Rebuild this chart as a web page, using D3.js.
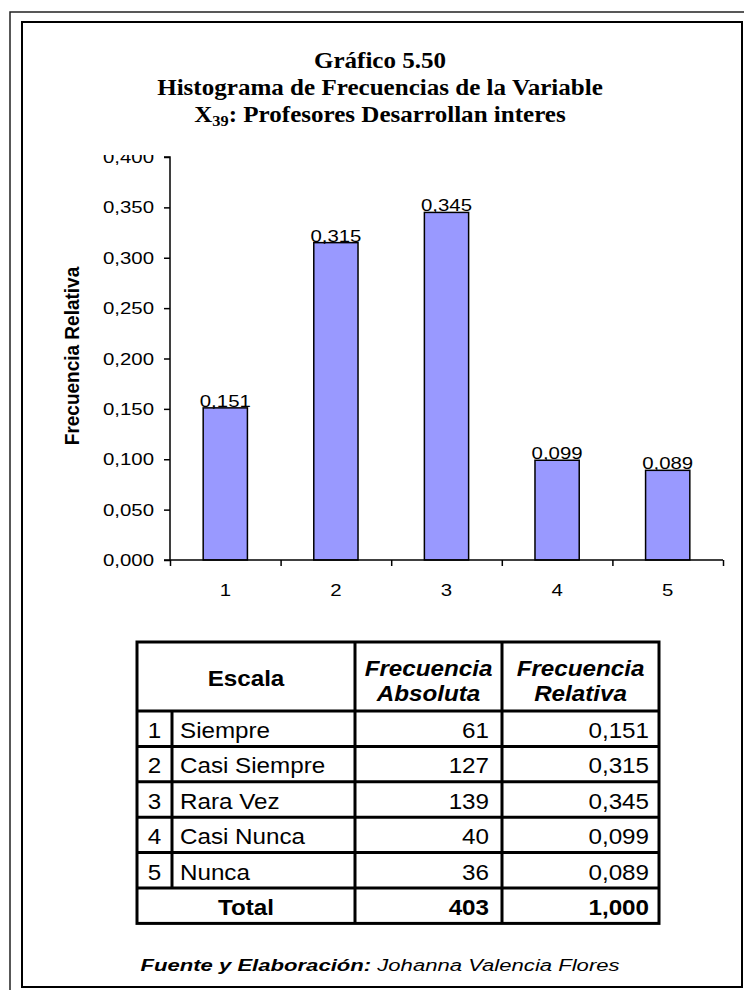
<!DOCTYPE html>
<html>
<head>
<meta charset="utf-8">
<script src="https://cdn.jsdelivr.net/npm/d3@7"></script>
<style>
  body { margin: 0; background: #fff; }
  svg { display: block; }
</style>
</head>
<body>
<div id="chart"></div>
<script>
// datos del grafico 5.50
var categories = ["1", "2", "3", "4", "5"];
var scaleNames = ["Siempre", "Casi Siempre", "Rara Vez", "Casi Nunca", "Nunca"];
var absFreq = [61, 127, 139, 40, 36];
var relFreq = [0.151, 0.315, 0.345, 0.099, 0.089];
var yTicks = [0, 0.05, 0.1, 0.15, 0.2, 0.25, 0.3, 0.35, 0.4];
var titleLines = ["Gráfico 5.50", "Histograma de Frecuencias de la Variable"];
var totalAbs = "403";
var totalRel = "1,000";

var width = 744, height = 990;
var comma = function (v) { return d3.format(".3f")(v).replace(".", ","); };

var svg = d3.select("#chart").append("svg")
    .attr("width", width)
    .attr("height", height);

// marco doble
svg.append("path")
    .attr("d", "M10,990 L10,12 L744,12")
    .attr("fill", "none")
    .attr("stroke", "#222")
    .attr("stroke-width", 1.5);
svg.append("rect")
    .attr("x", 22).attr("y", 22)
    .attr("width", 720).attr("height", 965)
    .attr("fill", "none")
    .attr("stroke", "#000")
    .attr("stroke-width", 2);

// texto estirado en horizontal (el grafico original esta deformado)
function stretchText(g, x, y, txt, sx, anchor) {
    return g.append("text")
        .attr("transform", "translate(" + x + "," + y + ") scale(" + sx + ",1)")
        .attr("text-anchor", anchor || "middle")
        .text(txt);
}

// titulo
var title = svg.append("g")
    .attr("font-family", "'Liberation Serif', 'Times New Roman', serif")
    .attr("font-weight", "bold")
    .attr("font-size", 23)
    .attr("text-anchor", "middle");
stretchText(title, 380, 68, titleLines[0], 1.09);
stretchText(title, 380, 95, titleLines[1], 1.09);
var t3 = stretchText(title, 380, 122, "", 1.09);
t3.append("tspan").text("X");
t3.append("tspan").attr("font-size", 15).attr("dy", 4).text("39");
t3.append("tspan").attr("dy", -4).text(": Profesores Desarrollan interes");

// area del grafico
var x0 = 170, x1 = 723, yBase = 560, yTop = 157;

var x = d3.scaleBand()
    .domain(categories)
    .range([x0, x1])
    .paddingInner(0.6)
    .paddingOuter(0.3);

var xb = d3.scaleLinear().domain([0, 5]).range([x0, x1]);

var y = d3.scaleLinear()
    .domain([0, 0.4])
    .range([yBase, yTop]);

svg.append("clipPath").attr("id", "clipTop")
    .append("rect").attr("x", 0).attr("y", 155).attr("width", width).attr("height", 500);

var plot = svg.append("g").attr("clip-path", "url(#clipTop)");

var data = categories.map(function (c, i) { return {cat: c, v: relFreq[i]}; });

plot.selectAll("rect.bar")
    .data(data)
    .enter().append("rect")
    .attr("class", "bar")
    .attr("x", function (d) { return x(d.cat); })
    .attr("width", x.bandwidth())
    .attr("y", function (d) { return y(d.v); })
    .attr("height", function (d) { return yBase - y(d.v); })
    .attr("fill", "#9999FF")
    .attr("stroke", "#000")
    .attr("stroke-width", 1.5);

// eje y
var yAxis = plot.append("g")
    .attr("transform", "translate(" + x0 + ",0)")
    .call(d3.axisLeft(y).tickValues(yTicks).tickSize(6).tickFormat(""));
yAxis.selectAll("path, line").attr("stroke", "#000").attr("stroke-width", 1.5);
yAxis.select(".domain").attr("d", "M-6," + yTop + "H0V" + yBase + "H-6");

var fontChart = 17, sxChart = 1.2;
var yLab = plot.append("g")
    .attr("font-family", "'Liberation Sans', Arial, sans-serif")
    .attr("font-size", fontChart)
    .attr("fill", "#000");
yTicks.forEach(function (t) {
    stretchText(yLab, 154, y(t) + 6, comma(t), sxChart, "end");
});

// eje x
var xAxis = plot.append("g")
    .attr("transform", "translate(0," + yBase + ")")
    .call(d3.axisBottom(xb).tickValues([0, 1, 2, 3, 4, 5]).tickSize(6).tickFormat(""));
xAxis.selectAll("path, line").attr("stroke", "#000").attr("stroke-width", 1.5);
xAxis.select(".domain").attr("d", "M" + x0 + ",0H" + x1);

var xLab = plot.append("g")
    .attr("font-family", "'Liberation Sans', Arial, sans-serif")
    .attr("font-size", fontChart);
categories.forEach(function (c) {
    stretchText(xLab, x(c) + x.bandwidth() / 2, 596, c, sxChart);
});

// etiquetas de valor
data.forEach(function (d) {
    stretchText(xLab, x(d.cat) + x.bandwidth() / 2, y(d.v) - 1, comma(d.v), sxChart);
});

// titulo eje y
svg.append("text")
    .attr("transform", "translate(79,356) scale(1.1,1) rotate(-90)")
    .attr("text-anchor", "middle")
    .attr("font-family", "'Liberation Sans', Arial, sans-serif")
    .attr("font-weight", "bold")
    .attr("font-size", 19)
    .text("Frecuencia Relativa");

// tabla
var cols = [137, 172, 355, 502, 659];
var rowTop = 642, headH = 69, rowH = 35.4;
var nRows = scaleNames.length;
var tBottom = rowTop + headH + rowH * (nRows + 1);

var tbl = svg.append("g")
    .attr("font-family", "'Liberation Sans', Arial, sans-serif")
    .attr("font-size", 22);

var lineStyle = function (sel) { return sel.attr("stroke", "#000").attr("stroke-width", 3); };

lineStyle(tbl.append("rect")
    .attr("x", cols[0]).attr("y", rowTop)
    .attr("width", cols[4] - cols[0]).attr("height", tBottom - rowTop)
    .attr("fill", "none"));
[2, 3].forEach(function (k) {
    lineStyle(tbl.append("line").attr("x1", cols[k]).attr("x2", cols[k]).attr("y1", rowTop).attr("y2", tBottom));
});
lineStyle(tbl.append("line").attr("x1", cols[1]).attr("x2", cols[1])
    .attr("y1", rowTop + headH).attr("y2", rowTop + headH + rowH * nRows));
for (var r = 0; r <= nRows; r++) {
    var yy = rowTop + headH + rowH * r;
    lineStyle(tbl.append("line").attr("x1", cols[0]).attr("x2", cols[4]).attr("y1", yy).attr("y2", yy));
}

// cabecera
var sx = 1.1;
stretchText(tbl, (cols[0] + cols[2]) / 2, rowTop + 44, "Escala", sx).attr("font-weight", "bold");
[["Frecuencia", "Absoluta", 3], ["Frecuencia", "Relativa", 4]].forEach(function (h) {
    var cx = (cols[h[2] - 1] + cols[h[2]]) / 2;
    stretchText(tbl, cx, rowTop + 34, h[0], sx).attr("font-weight", "bold").attr("font-style", "italic");
    stretchText(tbl, cx, rowTop + 59, h[1], sx).attr("font-weight", "bold").attr("font-style", "italic");
});

scaleNames.forEach(function (n, i) {
    var base = rowTop + headH + rowH * i + 27;
    stretchText(tbl, (cols[0] + cols[1]) / 2, base, categories[i], sx);
    stretchText(tbl, cols[1] + 8, base, n, sx, "start");
    stretchText(tbl, cols[3] - 13, base, absFreq[i], sx, "end");
    stretchText(tbl, cols[4] - 10, base, comma(relFreq[i]), sx, "end");
});
var tb = rowTop + headH + rowH * nRows + 27;
stretchText(tbl, (cols[0] + cols[2]) / 2, tb, "Total", sx).attr("font-weight", "bold");
stretchText(tbl, cols[3] - 13, tb, totalAbs, sx, "end").attr("font-weight", "bold");
stretchText(tbl, cols[4] - 10, tb, totalRel, sx, "end").attr("font-weight", "bold");

// fuente
var foot = stretchText(svg, 380, 971, "", 1.3)
    .attr("font-family", "'Liberation Sans', Arial, sans-serif")
    .attr("font-size", 17)
    .attr("font-style", "italic");
foot.append("tspan").attr("font-weight", "bold").text("Fuente y Elaboración:");
foot.append("tspan").text("  Johanna Valencia Flores");
</script>
</body>
</html>
